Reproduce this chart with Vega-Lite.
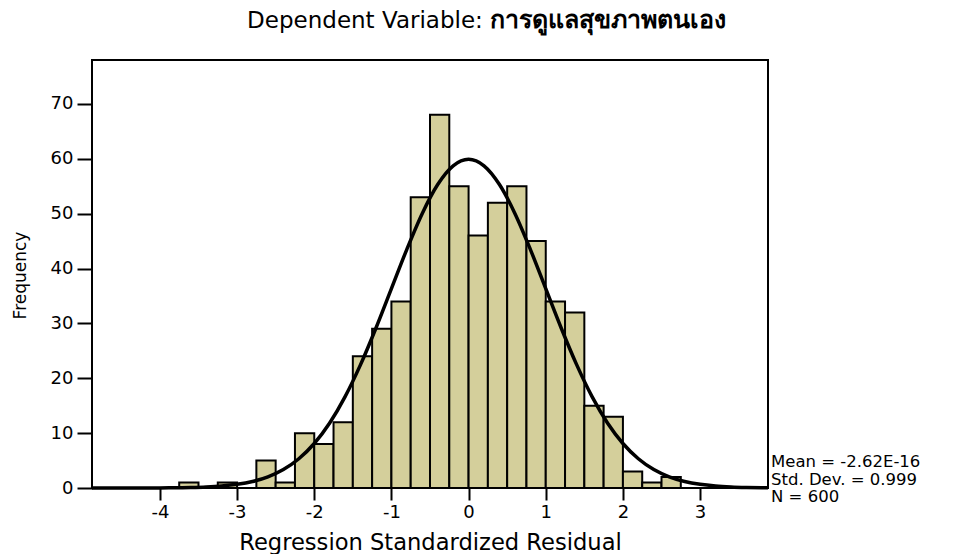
{
  "$schema": "https://vega.github.io/schema/vega-lite/v6.json",
  "autosize": {"type": "none"},
  "padding": {"left": 92, "top": 60, "right": 189, "bottom": 66},
  "width": 676,
  "height": 428,
  "background": "white",
  "config": {
    "font": "DejaVu Sans",
    "view": {"stroke": "black", "strokeWidth": 2},
    "axis": {"grid": false, "domain": false, "tickColor": "black", "tickWidth": 2, "labelColor": "black", "titleColor": "black", "labelFont": "DejaVu Sans", "titleFont": "DejaVu Sans", "titleFontWeight": "normal"}
  },
  "datasets": {
    "bars": [
      {"start": -3.75, "end": -3.5, "count": 1},
      {"start": -3.25, "end": -3.0, "count": 1},
      {"start": -2.75, "end": -2.5, "count": 5},
      {"start": -2.5, "end": -2.25, "count": 1},
      {"start": -2.25, "end": -2.0, "count": 10},
      {"start": -2.0, "end": -1.75, "count": 8},
      {"start": -1.75, "end": -1.5, "count": 12},
      {"start": -1.5, "end": -1.25, "count": 24},
      {"start": -1.25, "end": -1.0, "count": 29},
      {"start": -1.0, "end": -0.75, "count": 34},
      {"start": -0.75, "end": -0.5, "count": 53},
      {"start": -0.5, "end": -0.25, "count": 68},
      {"start": -0.25, "end": 0.0, "count": 55},
      {"start": 0.0, "end": 0.25, "count": 46},
      {"start": 0.25, "end": 0.5, "count": 52},
      {"start": 0.5, "end": 0.75, "count": 55},
      {"start": 0.75, "end": 1.0, "count": 45},
      {"start": 1.0, "end": 1.25, "count": 34},
      {"start": 1.25, "end": 1.5, "count": 32},
      {"start": 1.5, "end": 1.75, "count": 15},
      {"start": 1.75, "end": 2.0, "count": 13},
      {"start": 2.0, "end": 2.25, "count": 3},
      {"start": 2.25, "end": 2.5, "count": 1},
      {"start": 2.5, "end": 2.75, "count": 2}
    ],
    "curve": [
      {"x": -4.88, "y": 0.0004},
      {"x": -4.8, "y": 0.0006},
      {"x": -4.6, "y": 0.0015},
      {"x": -4.4, "y": 0.0038},
      {"x": -4.2, "y": 0.0089},
      {"x": -4.0, "y": 0.02},
      {"x": -3.8, "y": 0.044},
      {"x": -3.6, "y": 0.092},
      {"x": -3.4, "y": 0.185},
      {"x": -3.2, "y": 0.358},
      {"x": -3.0, "y": 0.666},
      {"x": -2.8, "y": 1.19},
      {"x": -2.6, "y": 2.04},
      {"x": -2.4, "y": 3.36},
      {"x": -2.2, "y": 5.33},
      {"x": -2.0, "y": 8.11},
      {"x": -1.8, "y": 11.85},
      {"x": -1.6, "y": 16.65},
      {"x": -1.4, "y": 22.48},
      {"x": -1.2, "y": 29.16},
      {"x": -1.0, "y": 36.33},
      {"x": -0.8, "y": 43.5},
      {"x": -0.6, "y": 50.04},
      {"x": -0.4, "y": 55.3},
      {"x": -0.2, "y": 58.71},
      {"x": 0.0, "y": 59.9},
      {"x": 0.2, "y": 58.71},
      {"x": 0.4, "y": 55.3},
      {"x": 0.6, "y": 50.04},
      {"x": 0.8, "y": 43.5},
      {"x": 1.0, "y": 36.33},
      {"x": 1.2, "y": 29.16},
      {"x": 1.4, "y": 22.48},
      {"x": 1.6, "y": 16.65},
      {"x": 1.8, "y": 11.85},
      {"x": 2.0, "y": 8.11},
      {"x": 2.2, "y": 5.33},
      {"x": 2.4, "y": 3.36},
      {"x": 2.6, "y": 2.04},
      {"x": 2.8, "y": 1.19},
      {"x": 3.0, "y": 0.666},
      {"x": 3.2, "y": 0.358},
      {"x": 3.4, "y": 0.185},
      {"x": 3.6, "y": 0.092},
      {"x": 3.8, "y": 0.044},
      {"x": 3.88, "y": 0.032}
    ],
    "title": [
      {"part": "Dependent Variable:", "pos": -2.87, "weight": "normal"},
      {"part": "การดูแลสุขภาพตนเอง", "pos": 0.28, "weight": "bold"}
    ]
  },
  "layer": [
    {
      "data": {"name": "bars"},
      "mark": {"type": "rect", "fill": "#d4cf9b", "stroke": "black", "strokeWidth": 2},
      "encoding": {
        "x": {
          "field": "start", "type": "quantitative",
          "scale": {"domain": [-4.88, 3.88], "nice": false, "zero": false},
          "axis": {
            "values": [-4, -3, -2, -1, 0, 1, 2, 3],
            "labelExpr": "'' + datum.value",
            "tickSize": 12,
            "labelFontSize": 18,
            "labelPadding": 3,
            "title": "Regression Standardized Residual",
            "titleFontSize": 22.6,
            "titleBaseline": "alphabetic",
            "titleY": 61
          }
        },
        "x2": {"field": "end"},
        "y": {
          "field": "count", "type": "quantitative",
          "scale": {"domain": [0, 78], "nice": false},
          "axis": {
            "values": [0, 10, 20, 30, 40, 50, 60, 70],
            "tickSize": 15,
            "labelFontSize": 18,
            "labelPadding": 4,
            "title": "Frequency",
            "titleFontSize": 17,
            "titleX": -72,
            "titleY": 215,
            "titleBaseline": "middle",
            "titleAlign": "center",
            "titleAngle": -90
          }
        },
        "y2": {"datum": 0}
      }
    },
    {
      "data": {"name": "curve"},
      "mark": {"type": "line", "color": "black", "strokeWidth": 3.5, "interpolate": "monotone"},
      "encoding": {
        "x": {"field": "x", "type": "quantitative"},
        "y": {"field": "y", "type": "quantitative"}
      }
    },
    {
      "data": {"name": "title"},
      "transform": [{"filter": "datum.weight == 'normal'"}],
      "mark": {"type": "text", "align": "left", "baseline": "alphabetic", "fontSize": 23, "fontWeight": "normal", "color": "black", "font": "DejaVu Sans"},
      "encoding": {
        "x": {"field": "pos", "type": "quantitative"},
        "y": {"datum": 83.8, "type": "quantitative"},
        "text": {"field": "part"}
      }
    },
    {
      "data": {"name": "title"},
      "transform": [{"filter": "datum.weight == 'bold'"}],
      "mark": {"type": "text", "align": "left", "baseline": "alphabetic", "fontSize": 25, "fontWeight": "bold", "color": "black", "font": "DejaVu Sans"},
      "encoding": {
        "x": {"field": "pos", "type": "quantitative"},
        "y": {"datum": 83.8, "type": "quantitative"},
        "text": {"field": "part"}
      }
    },
    {
      "data": {"values": [{"n": 600}]},
      "mark": {"type": "text", "align": "left", "baseline": "middle", "fontSize": 16.5, "lineHeight": 17.5, "dx": 3, "color": "black", "font": "DejaVu Sans"},
      "encoding": {
        "x": {"datum": 3.88, "type": "quantitative"},
        "y": {"datum": 4.7, "type": "quantitative"},
        "text": {"value": ["Mean = -2.62E-16", "Std. Dev. = 0.999", "N = 600"]}
      }
    }
  ]
}
